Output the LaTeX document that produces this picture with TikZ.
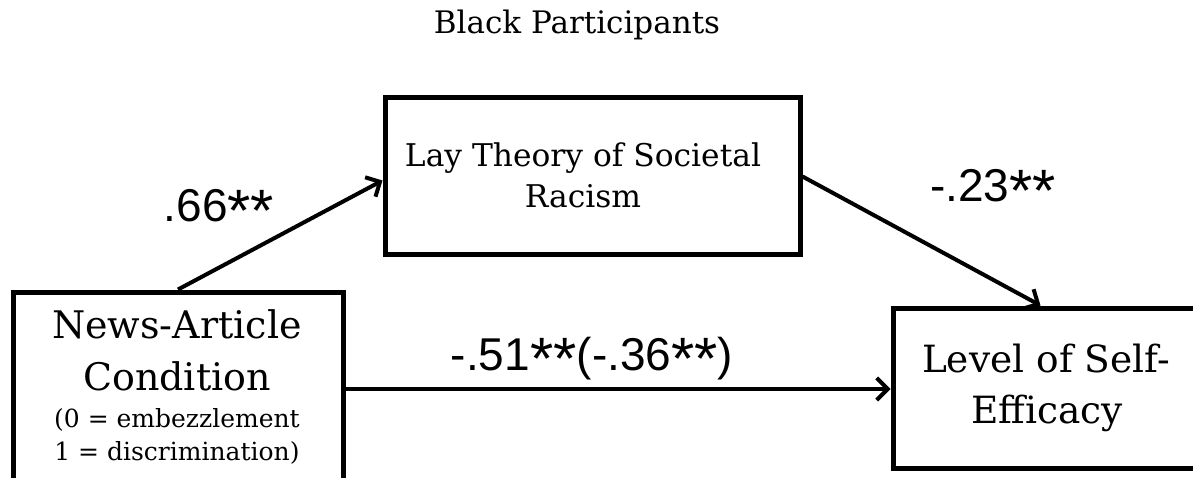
\documentclass[tikz,border=0pt]{standalone}
\usepackage{fontspec}
\usetikzlibrary{arrows.meta,calc}
\newfontfamily\slabfont{DejaVu Serif}
\newfontfamily\numfont{Liberation Sans}
\newcommand{\bigstar}{\raisebox{-0.2em}{\scalebox{1.3}{*}}}
\begin{document}
\begin{tikzpicture}[x=1pt,y=-1pt,
  varbox/.style={draw=black,line width=5pt,minimum width=#1,inner sep=0pt},
  conn/.style={line width=4pt,-{Straight Barb[length=11pt,width=22pt,line width=4pt]}},
  big/.style={font=\slabfont\fontsize{38}{44}\selectfont,anchor=base,inner sep=0pt},
  bigr/.style={font=\slabfont\fontsize{37.5}{44}\selectfont,anchor=base,inner sep=0pt},
  mid/.style={font=\slabfont\fontsize{31.3}{36}\selectfont,anchor=base,inner sep=0pt},
  small/.style={font=\slabfont\fontsize{25}{30}\selectfont,anchor=base,inner sep=0pt},
  title/.style={font=\slabfont\fontsize{31}{36}\selectfont,anchor=base,inner sep=0pt},
  coef/.style={font=\numfont\fontsize{46}{52}\selectfont,anchor=base,inner sep=0pt}]
\clip (0,0) rectangle (1193,478);
\fill[white] (0,0) rectangle (1193,478);
% boxes
\node[varbox=330pt,minimum height=194pt] (lb) at (178,389) {};
\node[varbox=415pt,minimum height=157pt] (mb) at (592.5,176.5) {};
\node[varbox=310pt,minimum height=160pt] (rb) at (1048,388) {};
% texts
\node[title] (ttl) at (577,34) {Black Participants};
\node[big] (lb1) at (177,338) {News-Article};
\node[big] (lb2) at (177,390) {Condition};
\node[small] (lb3) at (177,427) {(0 = embezzlement};
\node[small] (lb4) at (177,460) {1 = discrimination)};
\node[mid] (mb1) at (583,167) {Lay Theory of Societal};
\node[mid] (mb2) at (583,208) {Racism};
\node[bigr] (rb1) at (1046,372) {Level of Self-};
\node[bigr] (rb2) at (1047,423) {Efficacy};
% coefficients
\node[coef] (c1) at (219,222) {.66\bigstar\bigstar};
\node[coef] (c2) at (993,202) {-.23\bigstar\bigstar};
\node[coef] (c3) at (592,370) {-.51\bigstar\bigstar(-.36\bigstar\bigstar)};
% connectors
\draw[conn] (lb.north) -- ($(mb.west)+(0,4)$);
\draw[conn] (mb.east) -- ($(rb.north west)+(150,0)$);
\draw[conn] (lb.east) -- (lb.east -| rb.west);
\end{tikzpicture}
\end{document}
